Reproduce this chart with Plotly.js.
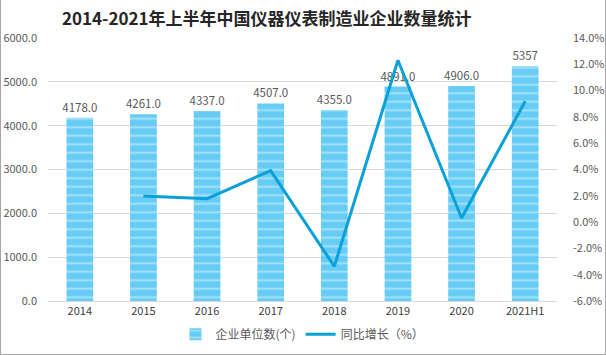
<!DOCTYPE html>
<html>
<head>
<meta charset="utf-8">
<script src="https://cdn.plot.ly/plotly-3.0.1.min.js"></script>
<style>
html,body{margin:0;padding:0;background:#fff;}
#wrap{width:606px;height:355px;box-sizing:border-box;border:1px solid #a6a6a6;border-top:none;overflow:hidden;}
#chart{width:604px;height:354px;}
</style>
</head>
<body>
<div id="wrap"><div id="chart"></div></div>
<script>
var categories = ['2014','2015','2016','2017','2018','2019','2020','2021H1'];
var companyCount = [4178, 4261, 4337, 4507, 4355, 4891, 4906, 5357];
var countLabels = ['4178.0','4261.0','4337.0','4507.0','4355.0','4891.0','4906.0','5357'];
var growthPct = [null, 1.99, 1.78, 3.92, -3.37, 12.31, 0.31, 9.19];
var leftTicks = [0,1000,2000,3000,4000,5000,6000];
var rightTicks = [-6,-4,-2,0,2,4,6,8,10,12,14];

var font = 'Noto Sans CJK SC, Noto Sans, sans-serif';

var bars = {
  type:'bar', x:categories, y:companyCount, name:'企业单位数(个)',
  text:countLabels, textposition:'outside', cliponaxis:false, constraintext:'none',
  textfont:{size:11.5, color:'#595959', family:font},
  marker:{color:'#66ccf5', line:{width:0},
    pattern:{shape:'-', fillmode:'overlay', fgcolor:'rgba(255,255,255,0.85)', size:8.5, solidity:0.22}},
  hoverinfo:'none'
};
var line = {
  type:'scatter', mode:'lines', x:categories, y:growthPct, yaxis:'y2', name:'同比增长（%）',
  line:{color:'#0aa0d8', width:3}, connectgaps:false, hoverinfo:'none'
};

var layout = {
  width:604, height:354,
  margin:{l:47, r:48, t:38, b:53},
  paper_bgcolor:'#fff', plot_bgcolor:'#fff',
  font:{family:font, color:'#595959', size:11},
  title:{text:'<b>2014-2021年上半年中国仪器仪表制造业企业数量统计</b>', x:0.44, xanchor:'center', y:0.945, yanchor:'middle',
    font:{size:17, color:'#262626', family:font}},
  bargap:0.58,
  showlegend:true,
  legend:{orientation:'h', x:0.5, xanchor:'center', yref:'container', y:0.015, yanchor:'bottom', font:{size:12, color:'#595959'}, traceorder:'normal'},
  xaxis:{type:'category', showgrid:false, showline:true, linecolor:'#d9d9d9', ticks:'', tickfont:{size:11, color:'#404040'}, fixedrange:true},
  yaxis:{range:[0,6000], tickvals:leftTicks, tickformat:'.1f', showgrid:true, gridcolor:'#d9d9d9', zeroline:false, showline:false,
    tickfont:{size:11, color:'#595959'}, ticklabelstandoff:10},
  yaxis2:{range:[-6,14], tickvals:rightTicks, ticktext:rightTicks.map(function(v){return v.toFixed(1)+'%';}), overlaying:'y', side:'right',
    showgrid:false, zeroline:false, showline:false, tickfont:{size:11, color:'#595959'}, ticklabelstandoff:15}
};

Plotly.newPlot('chart', [bars, line], layout, {displayModeBar:false, staticPlot:true});
</script>
</body>
</html>
